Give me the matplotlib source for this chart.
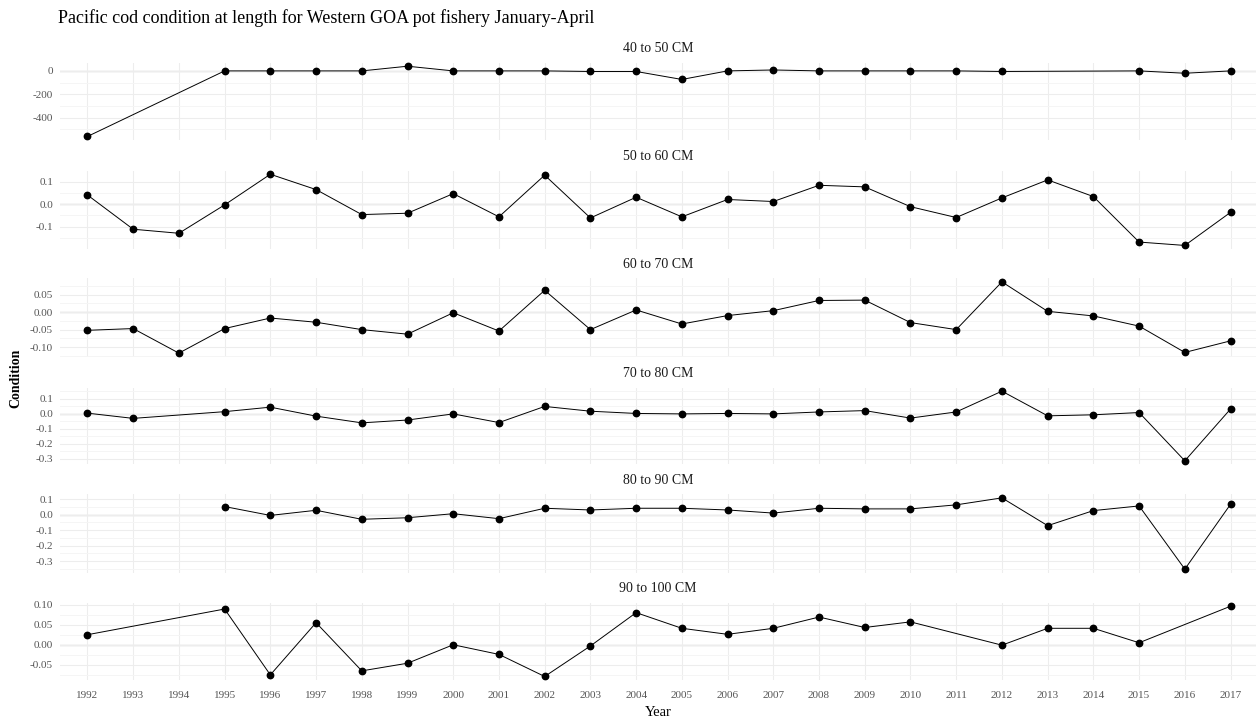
import numpy as np
import matplotlib
matplotlib.use("Agg")
import matplotlib.pyplot as plt
from matplotlib.ticker import MultipleLocator, FormatStrFormatter

plt.rcParams["font.family"] = ["Liberation Serif", "DejaVu Serif"]
plt.rcParams["axes.unicode_minus"] = False

# Condition at length, by size class (NaN = no sample that year)
years = list(range(1992, 2018))
nan = np.nan

cm40_50 = [-560, nan, nan, 0, 0, 0, 0, 40, 0, 0, 0, -5, -5, -73, 0, 8, 0, 0, 0, 0, -5,
           nan, nan, 0, -20, 0]
cm50_60 = [0.041, -0.111, -0.129, -0.003, 0.133, 0.065, -0.046, -0.040, 0.047, -0.056,
           0.129, -0.061, 0.031, -0.056, 0.021, 0.012, 0.084, 0.077, -0.011, -0.059,
           0.028, 0.108, 0.034, -0.168, -0.183, -0.036]
cm60_70 = [-0.052, -0.047, -0.117, -0.047, -0.017, -0.029, -0.050, -0.063, -0.002, -0.054,
           0.062, -0.050, 0.006, -0.034, -0.010, 0.004, 0.033, 0.034, -0.030, -0.050,
           0.086, 0.002, -0.011, -0.040, -0.115, -0.082]
cm70_80 = [0.005, -0.030, nan, 0.015, 0.045, -0.015, -0.060, -0.041, 0.000, -0.058,
           0.050, 0.018, 0.003, 0.000, 0.003, 0.000, 0.013, 0.022, -0.028, 0.013,
           0.152, -0.013, -0.006, 0.009, -0.314, 0.033]
cm80_90 = [nan, nan, nan, 0.052, -0.005, 0.028, -0.030, -0.020, 0.006, -0.026,
           0.041, 0.030, 0.041, 0.041, 0.030, 0.010, 0.041, 0.037, 0.037, 0.063,
           0.108, -0.071, 0.026, 0.056, -0.351, 0.067]
cm90_100 = [0.025, nan, nan, 0.089, -0.075, 0.055, -0.065, -0.046, 0.000, -0.024,
            -0.079, -0.003, 0.080, 0.041, 0.026, 0.041, 0.069, 0.043, 0.057, nan,
            -0.001, 0.041, 0.041, 0.005, nan, 0.096]

panel_names = ["40 to 50 CM", "50 to 60 CM", "60 to 70 CM",
               "70 to 80 CM", "80 to 90 CM", "90 to 100 CM"]
panel_series = [cm40_50, cm50_60, cm60_70, cm70_80, cm80_90, cm90_100]

# y-axis tick step (major, minor) and label format for each facet
tick_steps = [(200, 100), (0.1, 0.05), (0.05, 0.025), (0.1, 0.05), (0.1, 0.05), (0.05, 0.025)]
tick_fmts = ["%d", "%.1f", "%.2f", "%.1f", "%.1f", "%.2f"]

W, H = 1256, 719
fig = plt.figure(figsize=(W / 100, H / 100), dpi=100)

# facet boxes in pixels (top, bottom)
boxes = [(62.7, 140.0), (170.7, 249.0), (278.3, 356.7),
         (387.7, 464.3), (494.3, 572.7), (602.7, 680.0)]
left_px, right_px = 60, 1258

grid_major = "#EDEDED"
grid_minor = "#F5F5F5"
text_col = "#555555"

for i, (name, vals, (top, bot)) in enumerate(zip(panel_names, panel_series, boxes)):
    ax = fig.add_axes([left_px / W, 1 - bot / H, (right_px - left_px) / W, (bot - top) / H])
    x = np.array(years, dtype=float)
    y = np.array(vals, dtype=float)
    ok = ~np.isnan(y)
    ax.plot(x[ok], y[ok], color="black", lw=0.7, zorder=3, clip_on=False)
    ax.plot(x[ok], y[ok], "o", color="black", ms=4.6, zorder=4, clip_on=False)
    ax.axhline(0, color="#D6D6D6", lw=1.0, zorder=1)

    ymin, ymax = np.nanmin(y), np.nanmax(y)
    pad = 0.05 * (ymax - ymin)
    ax.set_ylim(ymin - pad, ymax + pad)
    ax.set_xlim(1991.4, 2017.6)

    major, minor = tick_steps[i]
    ax.yaxis.set_major_locator(MultipleLocator(major))
    ax.yaxis.set_minor_locator(MultipleLocator(minor))
    ax.yaxis.set_major_formatter(FormatStrFormatter(tick_fmts[i]))
    ax.set_xticks(years)
    ax.set_xticklabels([str(yr) for yr in years])

    ax.grid(True, which="major", axis="both", color=grid_major, lw=0.8, zorder=0)
    ax.grid(True, which="minor", axis="y", color=grid_minor, lw=0.7, zorder=0)
    for s in ax.spines.values():
        s.set_visible(False)
    ax.tick_params(axis="both", which="both", length=0)
    ax.tick_params(axis="y", labelsize=8, labelcolor=text_col, pad=5)
    ax.tick_params(axis="x", labelsize=8, labelcolor=text_col, pad=8)
    if i < len(boxes) - 1:
        ax.tick_params(axis="x", labelbottom=False)
    ax.set_facecolor("white")

    fig.text(658 / W, 1 - (top - 14) / H, name,
             ha="center", va="center", fontsize=10, color="#1A1A1A")

fig.text(58 / W, 1 - 18 / H,
         "Pacific cod condition at length for Western GOA pot fishery January-April",
         ha="left", va="center", fontsize=13, color="black")
fig.text(16 / W, 1 - 378 / H, "Condition", rotation=90, ha="center", va="center",
         fontsize=10, fontweight="bold", color="black")
fig.text(658 / W, 1 - 713 / H, "Year", ha="center", va="center",
         fontsize=10.5, color="black")

fig.savefig("out.png", dpi=100, facecolor="white")
